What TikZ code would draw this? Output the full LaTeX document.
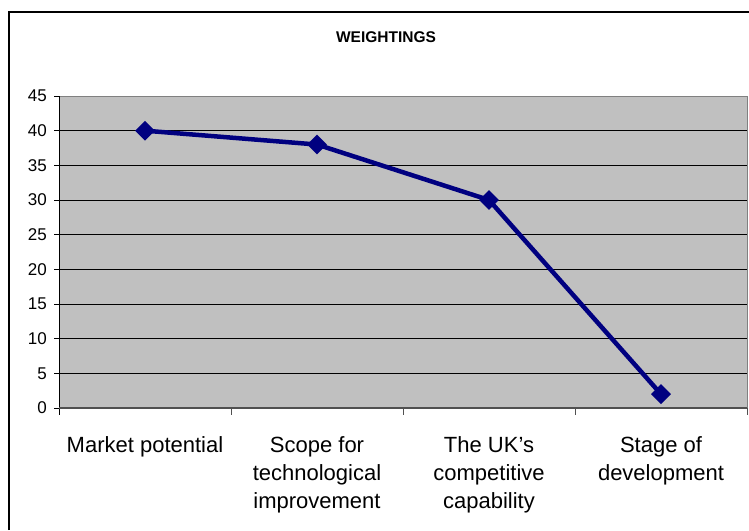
\documentclass[tikz,border=0pt]{standalone}
\usepackage{fontspec}
\setmainfont{Liberation Sans}
\usetikzlibrary{shapes.geometric}
\definecolor{seriesblue}{RGB}{0,0,128}
\definecolor{plotgray}{RGB}{192,192,192}
\definecolor{axisgray}{RGB}{80,80,80}
\tikzset{
	gridline/.style={line width=0.9pt, color=black},
	series/.style={line width=4.5pt, color=seriesblue, line join=round},
	marker/.style={diamond, fill=seriesblue, inner sep=0pt, minimum width=20pt, minimum height=20pt},
	catlabel/.style={font=\fontsize{22}{28}\selectfont, align=center, anchor=base},
	vallabel/.style={font=\fontsize{17}{19}\selectfont, anchor=east, inner sep=0pt}
}

\begin{document}
\begin{tikzpicture}[x=1pt, y=-1pt]
		%%%%% START %%%%%
		\useasboundingbox (0,0) rectangle (749,530);
		
		% chart frame, runs off the page at right and bottom
		\draw[line width=1.5pt] (9,530) -- (9,12) -- (749,12);
		
		\node[font=\bfseries\fontsize{15.5}{18}\selectfont, anchor=base] (title) at (386,42.5) {WEIGHTINGS};
		
		% plot area
		\fill[plotgray] (59,96) rectangle (747,408);
		\draw[line width=1pt, color=gray] (59,96) -- (747,96) -- (747,408);
		\foreach \v in {5,10,...,40}
			\draw[gridline] (59,408-6.9333*\v) -- (747,408-6.9333*\v);
		\foreach \v in {0,5,...,45}{
			\draw[line width=0.9pt] (54,408-6.9333*\v) -- (59,408-6.9333*\v);
			\node[vallabel] (v\v) at (47,408-6.9333*\v) {\v};
		}
		\draw[line width=0.9pt] (59,96) -- (59,415);
		\draw[line width=2pt, color=axisgray] (59,408) -- (747,408);
		\foreach \x in {231,403,575,747}
			\draw[line width=0.9pt, color=axisgray] (\x,408) -- (\x,415);
		
		% categories (anchor is the baseline of the last line)
		\node[catlabel] (cat1) at (145,452) {Market potential};
		\node[catlabel] (cat2) at (317,508) {Scope for\\technological\\improvement};
		\node[catlabel] (cat3) at (489,508) {The UK’s\\competitive\\capability};
		\node[catlabel] (cat4) at (661,480) {Stage of\\development};
		
		% series
		\coordinate (c1) at (145,408-6.9333*40);
		\coordinate (c2) at (317,408-6.9333*38);
		\coordinate (c3) at (489,408-6.9333*30);
		\coordinate (c4) at (661,408-6.9333*2);
		\draw[series] (c1) -- (c2) -- (c3) -- (c4);
		\node[marker] (p1) at (c1) {};
		\node[marker] (p2) at (c2) {};
		\node[marker] (p3) at (c3) {};
		\node[marker] (p4) at (c4) {};
		
		%%%%% END %%%%%
	\end{tikzpicture}
\end{document}
